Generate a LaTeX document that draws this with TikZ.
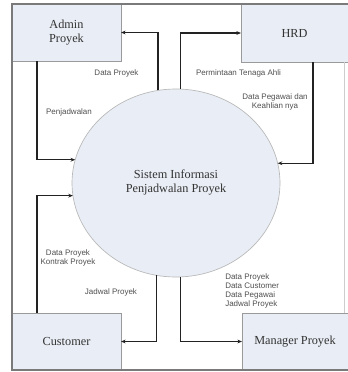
\documentclass[tikz,border=0pt]{standalone}
\usepackage{fontspec}
\setmainfont{Liberation Serif}
\setsansfont{Liberation Sans}
\usetikzlibrary{shapes.geometric,arrows.meta}
\definecolor{boxfill}{HTML}{E9EDF5}
\definecolor{boxline}{HTML}{9A9A9A}
\definecolor{framec}{HTML}{7A7A7A}
\definecolor{txtc}{HTML}{333333}
\definecolor{lblc}{HTML}{505050}
\definecolor{linec}{HTML}{222222}
\begin{document}
\begin{tikzpicture}[x=0.75pt,y=-0.75pt,
  entity/.style={draw=boxline, fill=boxfill, line width=0.6pt, inner sep=0pt, outer sep=0pt,
    anchor=north west, align=center, text=txtc, font=\fontsize{9.2pt}{10.5pt}\selectfont},
  proc/.style={ellipse, draw=boxline!70, fill=boxfill, line width=0.5pt, inner sep=0pt, outer sep=0pt,
    minimum width=156pt, minimum height=141pt, align=center, text=txtc,
    font=\fontsize{9.2pt}{10.5pt}\selectfont},
  lbl/.style={inner sep=0pt, text=lblc, font=\sffamily\fontsize{6pt}{6.75pt}\selectfont},
  flow/.style={draw=linec, line width=0.8pt, -{Stealth[length=3.5pt,width=2.8pt]}}
]
\useasboundingbox (0,0) rectangle (348,372);
\fill[white] (0,0) rectangle (348,372);
% entities
\node[entity, minimum width=81.75pt, minimum height=42.75pt] (admin) at (12,4) {Admin\\Proyek};
\node[entity, minimum width=80.25pt, minimum height=43.5pt] (hrd) at (241,4) {HRD};
\node[entity, minimum width=81.75pt, minimum height=42.75pt] (cust) at (12,313) {Customer};
\node[entity, minimum width=79.5pt, minimum height=42.75pt] (mgr) at (242,313) {Manager Proyek};
% process
\node[proc] (sys) at (176,183) {Sistem Informasi\\Penjadwalan Proyek};
% flows
\draw[flow] (sys.101.6) |- (admin.east);
\draw[flow] ([xshift=18.75pt]admin.south west) |- (sys.167.7);
\draw[flow] (sys.87) |- (hrd.west);
\draw[flow] ([xshift=-26.25pt]hrd.south east) |- (sys.11.1);
\draw[flow] ([xshift=18.75pt]cust.north west) |- (sys.187.2);
\draw[flow] (sys.258.4) |- (cust.east);
\draw[flow] (sys.273) |- (mgr.west);
% labels
\node[lbl] (l1) at (116.5,73) {Data Proyek};
\node[lbl] (l2) at (69,112) {Penjadwalan};
\node[lbl] (l3) at (238.5,73) {Permintaan Tenaga Ahli};
\node[lbl, align=center] (l4) at (275,101.5) {Data Pegawai dan\\Keahlian nya};
\node[lbl, align=center] (l5) at (68,258) {Data Proyek\\Kontrak Proyek};
\node[lbl] (l6) at (111,292) {Jadwal Proyek};
\node[lbl, align=left, anchor=north west] (l7) at (225,273.5) {Data Proyek\\Data Customer\\Data Pegawai\\Jadwal Proyek};
% frame
\draw[framec, line width=1.6pt] (348,4) -- (12,4) -- (12,370) -- (348,370);
\draw[boxline!50, line width=0.5pt] (344,62) -- (344,313);
\end{tikzpicture}
\end{document}
